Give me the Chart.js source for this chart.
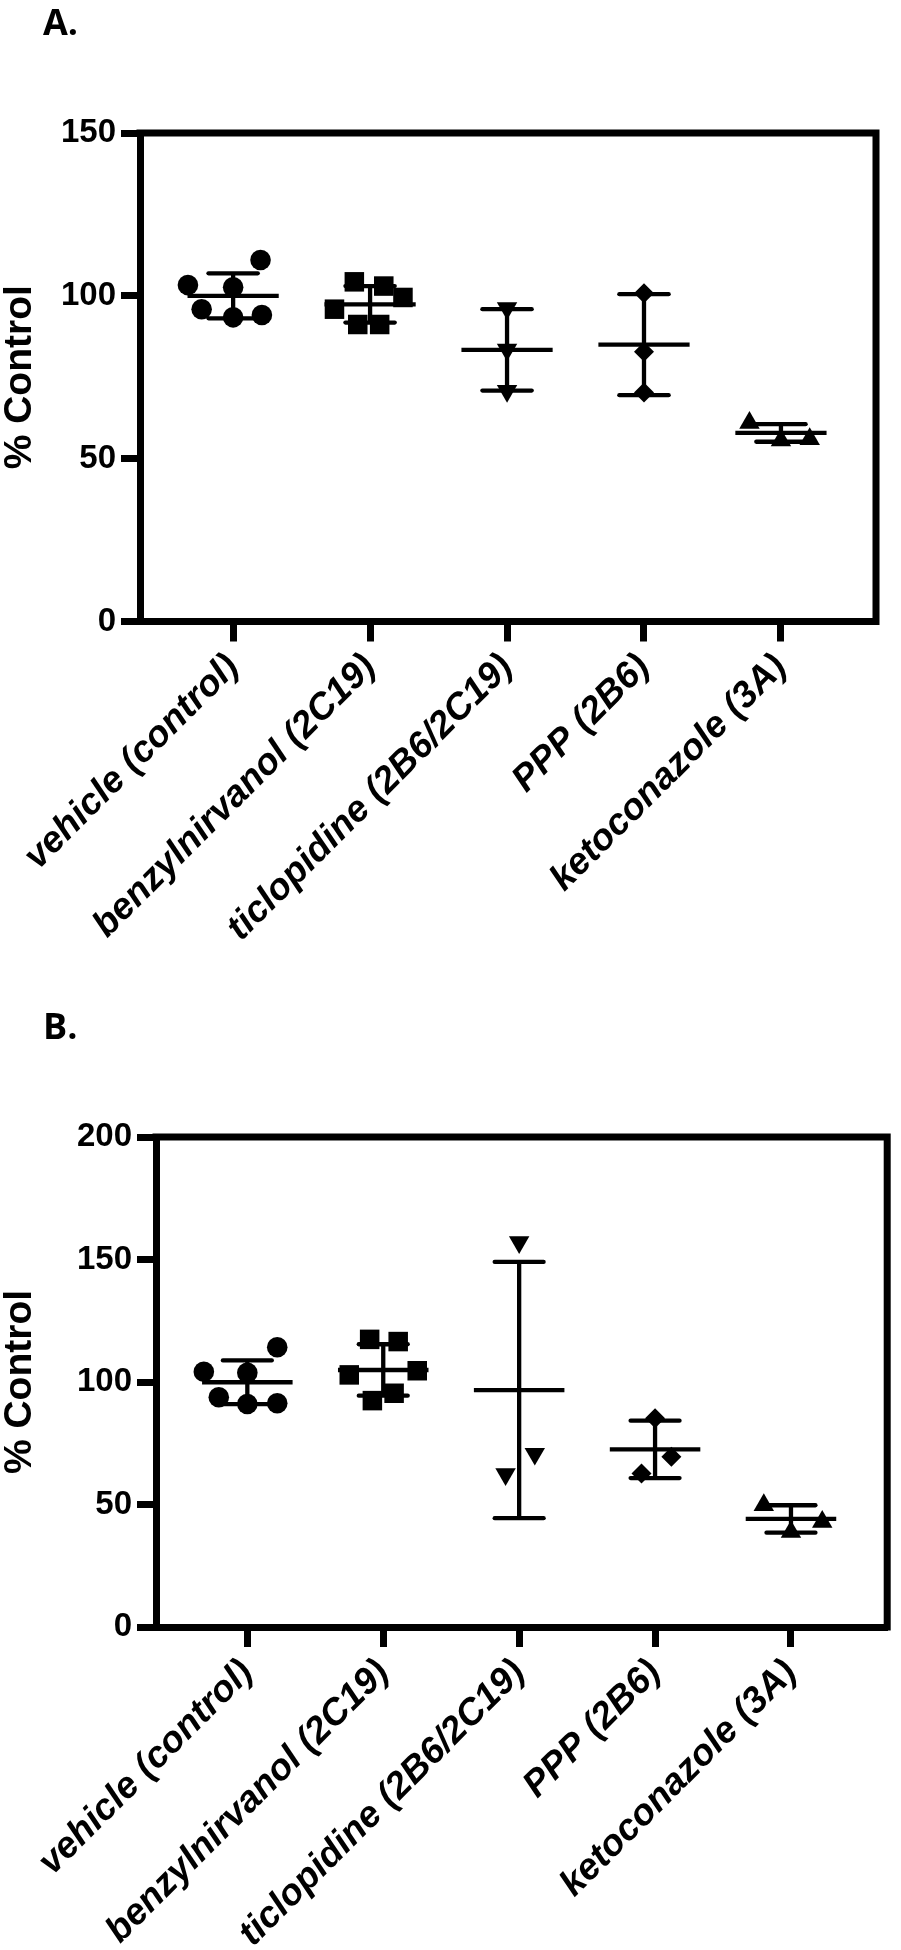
<!DOCTYPE html>
<html>
<head>
<meta charset="utf-8">
<script src="https://cdn.jsdelivr.net/npm/chart.js@4.4.1/dist/chart.umd.min.js"></script>
<style>
  body { margin: 0; background: #fff; }
  .wrap { position: relative; width: 901px; height: 1950px; }
  canvas { position: absolute; left: 0; }
  .panel-tag { position: absolute; left: 43px; font: bold 36px "Open Sans", sans-serif; line-height: 49px; color: #000; }
</style>
</head>
<body>
<div class="wrap">
  <canvas id="chartA" width="901" height="975" style="top: 0px;"></canvas>
  <canvas id="chartB" width="901" height="975" style="top: 975px;"></canvas>
  <div class="panel-tag" style="top: -3px;">A.</div>
  <div class="panel-tag" style="top: 1001px;">B.</div>
</div>
<script>
// categories on the x axis
const categories = ['vehicle (control)', 'benzylnirvanol (2C19)', 'ticlopidine (2B6/2C19)', 'PPP (2B6)', 'ketoconazole (3A)'];

// Panel A - individual points (% control)
const vehicleA = [103.3, 102.6, 111.0, 95.9, 93.4, 94.1];
const benzylA = [104.3, 103.0, 99.5, 95.9, 91.2, 91.2];
const ticloA = [96.2, 83.5, 70.8];
const pppA = [100.8, 82.8, 70.3];
const ketoA = [61.0, 55.6, 56.0];
// Panel A - mean and SD as drawn
const meanA = [100.0, 97.4, 83.4, 85.0, 57.9];
const sdA = [6.9, 5.6, 12.5, 15.5, 2.7];

// Panel B - individual points (% control)
const vehicleB = [104.2, 103.8, 114.2, 93.8, 91.0, 91.3];
const benzylB = [117.4, 116.5, 102.9, 104.6, 92.4, 95.4];
const ticloB = [157.1, 70.7, 62.4];
const pppB = [85.2, 69.5, 62.7];
const ketoB = [49.8, 38.8, 42.9];
// Panel B - mean and SD as drawn
const meanB = [99.9, 104.9, 96.7, 72.5, 44.1];
const sdB = [8.9, 10.5, 52.3, 11.7, 5.6];

// y tick values
const ticksA = [0, 50, 100, 150];
const ticksB = [0, 50, 100, 150, 200];

// horizontal scatter of points within a category (category units)
const spreadA = [
  [-0.33, 0, 0.2, -0.23, 0, 0.21],
  [-0.115, 0.1, 0.24, -0.26, -0.09, 0.07],
  [0, 0, 0],
  [0, 0, 0],
  [-0.23, 0, 0.21]
];
const spreadB = [
  [-0.32, 0, 0.22, -0.21, 0, 0.22],
  [-0.1, 0.11, -0.25, 0.25, -0.08, 0.08],
  [0, 0.115, -0.1],
  [0, 0.12, -0.1],
  [-0.2, 0, 0.23]
];

// marker look per category
const markerStyle = ['circle', 'rect', 'triangle', 'rectRot', 'triangle'];
const markerRadius = [10.3, 13.8, 11.8, 10, 11.8];
const markerRotation = [0, 0, 180, 0, 0];

const FONT = '"Liberation Sans", Arial, sans-serif';

function buildDatasets(groups, spread) {
  return groups.map((vals, i) => ({
    data: vals.map((v, k) => ({ x: i + spread[i][k], y: v })),
    pointStyle: markerStyle[i],
    pointRadius: markerRadius[i],
    pointRotation: markerRotation[i],
    pointBackgroundColor: '#000',
    pointBorderColor: '#000',
    pointBorderWidth: 0,
    showLine: false,
    clip: false
  }));
}

// mean line + SD whiskers, drawn through the chart's scales
const errorBars = {
  id: 'errorBars',
  afterDatasetsDraw(chart, args, opts) {
    const { ctx, scales: { x, y } } = chart;
    ctx.save();
    ctx.strokeStyle = '#000';
    ctx.lineWidth = 4.3;
    opts.means.forEach((m, i) => {
      const sd = opts.sds[i];
      const seg = (x0, x1, y0, y1, cap) => {
        ctx.lineCap = cap;
        ctx.beginPath();
        ctx.moveTo(x.getPixelForValue(x0), y.getPixelForValue(y0));
        ctx.lineTo(x.getPixelForValue(x1), y.getPixelForValue(y1));
        ctx.stroke();
      };
      seg(i, i, m - sd, m + sd, 'butt');
      seg(i - 0.18, i + 0.18, m + sd, m + sd, 'round');
      seg(i - 0.18, i + 0.18, m - sd, m - sd, 'round');
      seg(i - 0.333, i + 0.333, m, m, 'butt');
    });
    ctx.restore();
  }
};

// top and right frame lines
const frame = {
  id: 'frame',
  afterDraw(chart) {
    const { ctx, chartArea: a } = chart;
    ctx.save();
    ctx.strokeStyle = '#000';
    ctx.lineWidth = 7;
    ctx.lineCap = 'square';
    ctx.lineJoin = 'miter';
    ctx.beginPath();
    ctx.moveTo(a.left, a.top);
    ctx.lineTo(a.right, a.top);
    ctx.lineTo(a.right, a.bottom);
    ctx.stroke();
    ctx.restore();
  }
};

function makeChart(id, cfg) {
  return new Chart(document.getElementById(id), {
    type: 'scatter',
    data: { datasets: buildDatasets(cfg.groups, cfg.spread) },
    options: {
      responsive: false,
      animation: false,
      devicePixelRatio: 1,
      layout: { padding: cfg.padding },
      plugins: {
        legend: { display: false },
        tooltip: { enabled: false },
        errorBars: { means: cfg.means, sds: cfg.sds }
      },
      scales: {
        x: {
          type: 'linear',
          min: cfg.xMin,
          max: cfg.xMax,
          afterBuildTicks: s => { s.ticks = categories.map((c, i) => ({ value: i })); },
          afterFit: s => { s.height = cfg.xHeight; },
          ticks: {
            autoSkip: false,
            minRotation: 45,
            maxRotation: 45,
            padding: 4,
            color: '#000',
            font: { family: FONT, size: 37, weight: 'bold', style: 'italic' },
            callback: v => categories[v]
          },
          grid: { drawOnChartArea: false, tickLength: 20, tickWidth: 7, tickColor: '#000' },
          border: { display: true, width: 7, color: '#000' }
        },
        y: {
          min: 0,
          max: cfg.yTicks[cfg.yTicks.length - 1],
          afterBuildTicks: s => { s.ticks = cfg.yTicks.map(v => ({ value: v })); },
          afterFit: s => { s.width = cfg.yWidth; },
          ticks: {
            padding: 5,
            color: '#000',
            font: { family: FONT, size: 33, weight: 'bold' }
          },
          grid: { drawOnChartArea: false, tickLength: 19, tickWidth: 7, tickColor: '#000' },
          border: { display: true, width: 7, color: '#000' },
          title: {
            display: true,
            text: '% Control',
            color: '#000',
            padding: { top: -3, bottom: 0 },
            font: { family: FONT, size: 39, weight: 'bold' }
          }
        }
      }
    },
    plugins: [errorBars, frame]
  });
}

makeChart('chartA', {
  groups: [vehicleA, benzylA, ticloA, pppA, ketoA],
  spread: spreadA,
  means: meanA,
  sds: sdA,
  yTicks: ticksA,
  xMin: -0.68,
  xMax: 4.694,
  padding: { top: 133, right: 25, left: 0, bottom: 0 },
  yWidth: 140,
  xHeight: 353.5
});

makeChart('chartB', {
  groups: [vehicleB, benzylB, ticloB, pppB, ketoB],
  spread: spreadB,
  means: meanB,
  sds: sdB,
  yTicks: ticksB,
  xMin: -0.672,
  xMax: 4.708,
  padding: { top: 162, right: 8.5, left: 0, bottom: 0 },
  yWidth: 156,
  xHeight: 323
});
</script>
</body>
</html>
